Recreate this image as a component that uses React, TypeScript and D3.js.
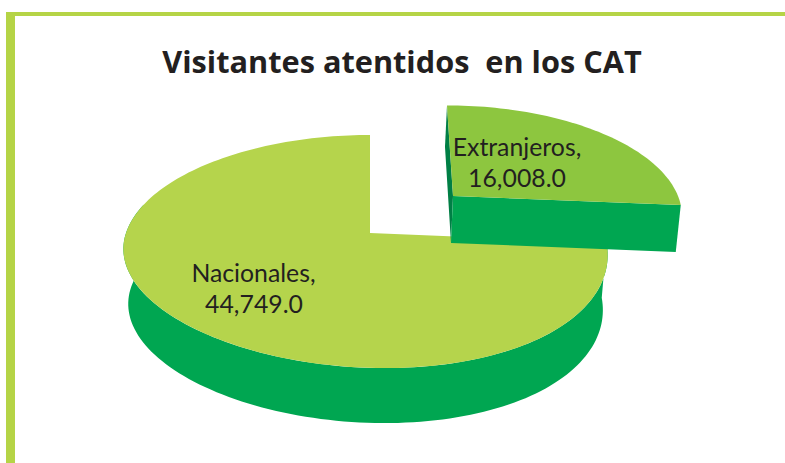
import React from "react";
import * as d3 from "d3";

const categories = ["Nacionales", "Extranjeros"];
const values = [44749, 16008];
const valueLabels = ["44,749.0", "16,008.0"];
const title = "Visitantes atentidos  en los CAT";

const W = 785, H = 463;
const K = 0.159;

type Geo = { cx: number; cy: number; rx: number; ry: number; lean: number; bow: number; front: number };
const nacional: Geo = { cx: 370, cy: 233, rx: 239, ry: 113.6, lean: 0, bow: -5, front: 15 };
const extranjero: Geo = { cx: 453, cy: 196, rx: 225, ry: 105, lean: -6, bow: 0, front: 0 };

function project(g: Geo, a: number, r = 1) {
  const u = r * Math.sin(a), v = r * Math.cos(a);
  const w = 1 + K * v;
  const frontShift = v < 0 ? g.front * v * v : 0;
  return [g.cx + (g.rx * u) / w + g.lean * v + g.bow * u * u + frontShift, g.cy - (g.ry * v) / w] as [number, number];
}
function rim(g: Geo, a0: number, a1: number, n = 90) {
  return d3.range(n + 1).map((i) => project(g, a0 + ((a1 - a0) * i) / n));
}
const shift = (pts: [number, number][], cx: number, sx: number, dy: number) =>
  pts.map(([x, y]) => [cx + (x - cx) * sx, y + dy] as [number, number]);

const line = d3.line<[number, number]>();

export default function App() {
  const pieGen = d3.pie<number>().sort(null).startAngle(0).endAngle(2 * Math.PI);
  // Extranjeros runs clockwise from 12 o'clock, Nacionales takes the rest
  const arcs = pieGen([values[1], values[0]]);
  const eArc = arcs[0], nArc = arcs[1];

  const nTop = rim(nacional, nArc.startAngle, nArc.endAngle, 180);
  const nTopPath = line([[nacional.cx, nacional.cy], ...nTop])! + "Z";
  const frontEnd = (285 * Math.PI) / 180;
  const nFront = rim(nacional, nArc.startAngle, frontEnd, 120);
  const nLower = shift(nFront, 367, 0.98, 55);
  const nSide = line([...nFront, ...nLower.slice().reverse()])! + "Z";

  const eTop = rim(extranjero, eArc.startAngle, eArc.endAngle, 60);
  const ePts: [number, number][] = [[extranjero.cx, extranjero.cy], ...eTop];
  const eCorner = eTop[eTop.length - 1];
  const eTopPath = line(ePts)! + "Z";
  const D = 47;
  const eFront = line([
    [extranjero.cx, extranjero.cy],
    eCorner,
    [eCorner[0] - 5, eCorner[1] + D],
    [extranjero.cx - 2, extranjero.cy + D],
  ])! + "Z";
  const eWall = line([
    eTop[0],
    [eTop[0][0] - 2, eTop[0][1] + 41],
    [extranjero.cx - 2, extranjero.cy + D],
    [extranjero.cx, extranjero.cy],
  ])! + "Z";

  const labelFont = "Lato, Carlito, sans-serif";
  const labelStyle = { fontFamily: labelFont, fontSize: 24.8, fill: "#231f20" };

  return (
    <svg width={W} height={H} viewBox={`0 0 ${W} ${H}`} style={{ position: "absolute", left: 0, top: 0, background: "#fff" }}>
      <rect x={6} y={12} width={W - 6} height={4} fill="#b5d446" />
      <rect x={6} y={12} width={9} height={H - 12} fill="#b5d446" />

      <text x={402} y={73} textAnchor="middle" xmlSpace="preserve" style={{ fontFamily: "'Open Sans', sans-serif", fontWeight: 700, fontSize: 30.7, fill: "#231f20", whiteSpace: "pre" }}>
        {title}
      </text>

      <path d={nSide} fill="#00a651" />
      <path d={nTopPath} fill="#b5d44c" />
      <path d={eWall} fill="#007f45" />
      <path d={eFront} fill="#00a651" />
      <path d={eTopPath} fill="#8dc63f" />

      <text x={253.5} y={282} textAnchor="middle" style={labelStyle}>{categories[0]},</text>
      <text x={254} y={313} textAnchor="middle" style={labelStyle}>{valueLabels[0]}</text>
      <text x={517} y={156} textAnchor="middle" style={labelStyle}>{categories[1]},</text>
      <text x={517} y={187} textAnchor="middle" style={labelStyle}>{valueLabels[1]}</text>
    </svg>
  );
}
